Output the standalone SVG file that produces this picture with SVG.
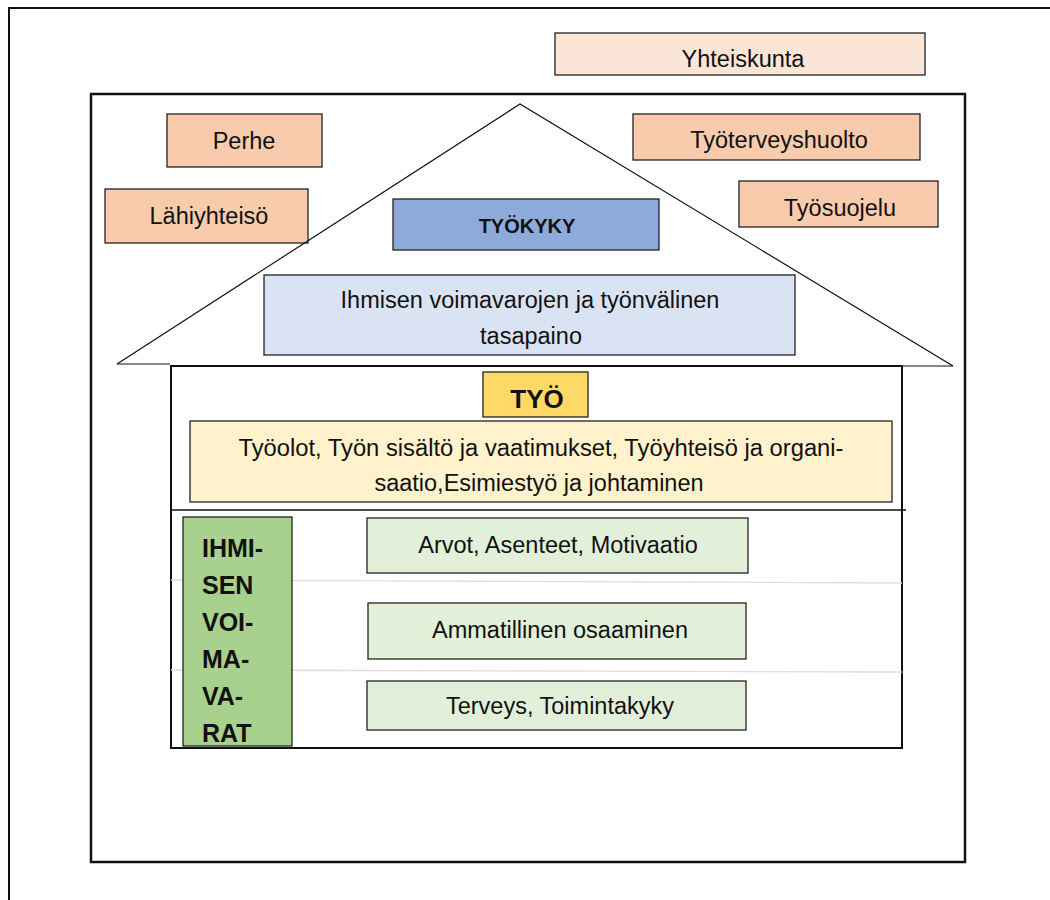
<svg xmlns="http://www.w3.org/2000/svg" width="1050" height="900" viewBox="0 0 1050 900">
<style>
.box{stroke:#222;stroke-width:1.3}
.ext{fill:#f8cbad}
.t{font-family:"Liberation Sans",Arial,sans-serif;font-size:23.5px;fill:#111;text-anchor:middle}
.b{font-weight:bold}
.g{fill:#e2f0d9}
</style>
<rect width="1050" height="900" fill="#fff"/>
<path d="M9,900 V8 H1050" fill="none" stroke="#111" stroke-width="2"/>
<g id="yhteiskunta"><rect class="box" x="555" y="33" width="370" height="42" fill="#fbe5d6"/><text class="t" x="743" y="67">Yhteiskunta</text></g>
<rect id="main" x="91" y="94" width="874" height="768" fill="none" stroke="#111" stroke-width="2.5"/>
<g id="perhe"><rect class="box ext" x="167" y="114" width="155" height="53"/><text class="t" x="244" y="149">Perhe</text></g>
<g id="lahiyhteiso"><rect class="box ext" x="105" y="189" width="203" height="54"/><text class="t" x="209" y="224">Lähiyhteisö</text></g>
<g id="tyoterveyshuolto"><rect class="box ext" x="633" y="114" width="287" height="46"/><text class="t" x="779" y="148">Työterveyshuolto</text></g>
<g id="tyosuojelu"><rect class="box ext" x="739" y="181" width="199" height="46"/><text class="t" x="840" y="216">Työsuojelu</text></g>
<g id="roof"><polyline points="117,364 520,104 953,366" fill="none" stroke="#111" stroke-width="1.2"/><line x1="117" y1="364" x2="170" y2="364" stroke="#111" stroke-width="1.2"/><line x1="902" y1="366" x2="953" y2="366" stroke="#111" stroke-width="1.2"/></g>
<g id="tyokyky"><rect class="box" x="393" y="199" width="266" height="51" fill="#8eaadb"/><text class="t b" x="527" y="233" style="font-size:20px">TYÖKYKY</text></g>
<g id="tasapaino"><rect class="box" x="264" y="275" width="531" height="80" fill="#dae3f3"/><text class="t" x="530" y="308">Ihmisen voimavarojen ja työnvälinen</text><text class="t" x="531" y="344">tasapaino</text></g>
<g id="house"><rect x="171" y="366" width="731" height="382" fill="none" stroke="#111" stroke-width="2"/>
<line x1="171" y1="510" x2="906" y2="510" stroke="#111" stroke-width="1.3"/>
<line x1="171" y1="580" x2="902" y2="583" stroke="#ddd" stroke-width="1.3"/>
<line x1="171" y1="670" x2="902" y2="672" stroke="#ddd" stroke-width="1.3"/></g>
<g id="tyo"><rect class="box" x="483" y="372" width="105" height="45" fill="#ffd966"/><text class="t b" x="537" y="408" style="font-size:26px">TYÖ</text></g>
<g id="tyoolot"><rect class="box" x="190" y="421" width="702" height="81" fill="#fff2cc"/><text class="t" x="541" y="456" textLength="605" lengthAdjust="spacingAndGlyphs">Työolot, Työn sisältö ja vaatimukset, Työyhteisö ja organi-</text><text class="t" x="539" y="491">saatio,Esimiestyö ja johtaminen</text></g>
<g id="voimavarat"><rect class="box" x="183" y="517" width="109" height="229" fill="#a9d18e"/>
<text class="t b" style="text-anchor:start;font-size:25px"><tspan x="202" y="557">IHMI-</tspan><tspan x="202" y="594">SEN</tspan><tspan x="202" y="631">VOI-</tspan><tspan x="202" y="668">MA-</tspan><tspan x="202" y="705">VA-</tspan><tspan x="202" y="742">RAT</tspan></text></g>
<g id="arvot"><rect class="box g" x="367" y="518" width="381" height="55"/><text class="t" x="558" y="553">Arvot, Asenteet, Motivaatio</text></g>
<g id="ammatillinen"><rect class="box g" x="368" y="603" width="378" height="56"/><text class="t" x="560" y="638">Ammatillinen osaaminen</text></g>
<g id="terveys"><rect class="box g" x="367" y="681" width="379" height="49"/><text class="t" x="560" y="714">Terveys, Toimintakyky</text></g>
<g id="connectors"></g>
</svg>
